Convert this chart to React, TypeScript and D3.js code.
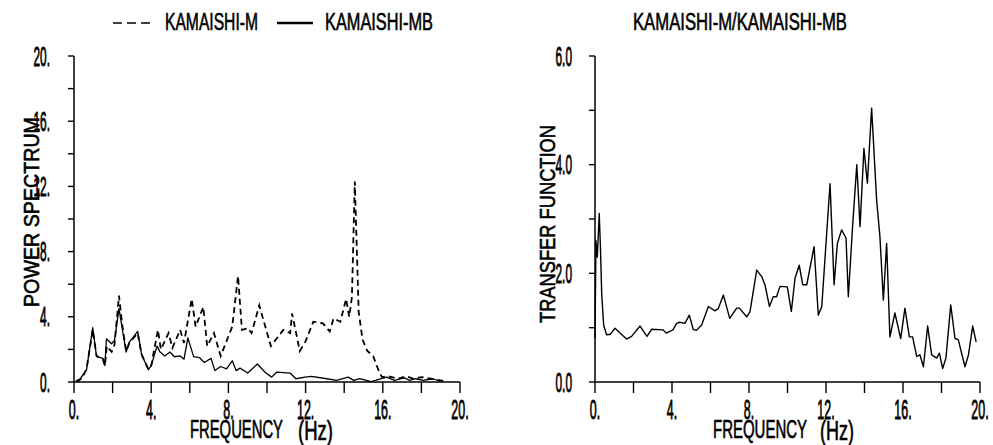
import React from "react";
import * as d3 from "d3";

// ---------- DATA ----------
const xTicks = [0, 2, 4, 6, 8, 10, 12, 14, 16, 18, 20];
const xTickLabels = ["0.", "4.", "8.", "12.", "16.", "20."];
const psTicks = [0, 2, 4, 6, 8, 10, 12, 14, 16, 18, 20];
const psTickLabels = ["0.", "4.", "8.", "12.", "16.", "20."];
const tfTicks = [0, 1, 2, 3, 4, 5, 6];
const tfTickLabels = ["0.0", "2.0", "4.0", "6.0"];

// KAMAISHI-M (dashed)
const mFreq = [0.1, 0.4, 0.65, 0.97, 1.17, 1.5, 1.6, 1.7, 1.95, 2.1, 2.33, 2.5, 2.7, 2.87, 3.3, 3.5, 3.85, 4.0, 4.35, 4.5, 4.9, 5.1, 5.5, 5.7, 6.1, 6.3, 6.7, 6.9, 7.25, 7.6, 8.2, 8.5, 8.7, 9.0, 9.2, 9.6, 10.2, 10.85, 11.2, 11.3, 11.7, 12.0, 12.4, 12.9, 13.25, 13.45, 13.8, 14.1, 14.26, 14.4, 14.55, 14.75, 14.95, 15.2, 15.5, 15.75, 15.95, 16.3, 16.8, 17.2, 17.6, 18.0, 18.5, 19.0, 19.2];
const mPower = [0.05, 0.2, 0.8, 3.2, 1.6, 1.4, 1.0, 2.2, 1.85, 2.3, 5.3, 3.5, 1.9, 2.4, 3.0, 1.7, 0.8, 1.0, 3.2, 2.0, 3.0, 2.1, 3.2, 2.4, 5.1, 3.4, 4.6, 2.2, 3.0, 1.6, 3.4, 6.5, 3.2, 3.3, 3.0, 4.7, 2.2, 3.2, 3.0, 4.2, 1.9, 2.5, 3.7, 3.6, 3.1, 3.9, 3.7, 5.1, 4.0, 5.2, 12.3, 4.3, 2.6, 1.9, 1.6, 0.8, 0.3, 0.35, 0.2, 0.35, 0.2, 0.3, 0.2, 0.1, 0.05];

// KAMAISHI-MB (solid)
const mbFreq = [0.2, 0.65, 0.97, 1.17, 1.5, 1.6, 1.68, 1.94, 2.1, 2.33, 2.7, 2.87, 3.3, 3.5, 3.85, 4.0, 4.3, 4.45, 4.7, 4.97, 5.2, 5.5, 5.7, 5.9, 6.2, 6.5, 6.75, 7.1, 7.3, 7.6, 7.9, 8.2, 8.4, 8.6, 9.0, 9.5, 9.9, 10.24, 10.5, 11.2, 11.5, 11.97, 12.3, 13.1, 13.6, 14.2, 14.5, 14.8, 15.4, 16.2, 16.6, 17.1, 17.4, 17.7, 18.1, 18.6, 19.0];
const mbPower = [0.0, 0.74, 3.33, 1.55, 1.45, 1.0, 2.65, 2.35, 2.55, 4.5, 1.84, 2.45, 3.1, 1.7, 0.75, 1.0, 2.2, 1.85, 1.6, 1.84, 1.55, 1.6, 1.4, 2.7, 1.56, 1.5, 1.2, 1.45, 0.7, 0.95, 0.8, 1.3, 0.7, 0.85, 0.55, 1.1, 0.6, 0.3, 0.6, 0.55, 0.2, 0.3, 0.35, 0.2, 0.1, 0.3, 0.1, 0.2, 0.02, 0.3, 0.1, 0.25, 0.1, 0.2, 0.1, 0.2, 0.03];

// Transfer function KAMAISHI-M / KAMAISHI-MB
const tfFreq = [0.0, 0.05, 0.12, 0.22, 0.28, 0.35, 0.45, 0.6, 0.8, 1.04, 1.3, 1.64, 1.9, 2.34, 2.7, 2.94, 3.53, 3.7, 4.05, 4.24, 4.4, 4.67, 4.9, 5.1, 5.27, 5.54, 5.89, 6.23, 6.4, 6.67, 7.0, 7.36, 7.5, 7.88, 8.05, 8.4, 8.66, 8.83, 9.06, 9.26, 9.43, 9.61, 9.99, 10.2, 10.39, 10.61, 10.79, 11.0, 11.38, 11.6, 11.78, 12.21, 12.42, 12.59, 12.81, 13.04, 13.16, 13.38, 13.6, 13.77, 13.97, 14.15, 14.37, 14.63, 14.8, 14.98, 15.15, 15.32, 15.58, 15.88, 16.1, 16.33, 16.5, 16.71, 16.88, 17.06, 17.28, 17.49, 17.75, 17.89, 18.06, 18.23, 18.48, 18.7, 18.87, 19.22, 19.4, 19.62, 19.8];
const tfValue = [0.8, 2.6, 2.3, 3.1, 2.5, 1.6, 1.05, 0.87, 0.88, 0.99, 0.9, 0.79, 0.84, 1.03, 0.84, 0.97, 0.96, 0.9, 0.96, 1.08, 1.1, 1.08, 1.23, 0.97, 0.95, 1.05, 1.39, 1.31, 1.35, 1.6, 1.17, 1.36, 1.36, 1.2, 1.29, 2.06, 1.94, 1.79, 1.39, 1.57, 1.57, 1.76, 1.75, 1.3, 1.91, 2.15, 1.79, 1.79, 2.49, 1.23, 1.39, 3.65, 1.79, 2.55, 2.8, 2.65, 1.57, 2.86, 4.0, 2.86, 4.3, 3.66, 5.04, 3.35, 2.68, 1.51, 2.55, 0.83, 1.27, 0.8, 1.36, 0.83, 0.83, 0.47, 0.5, 0.28, 1.03, 0.5, 0.44, 0.53, 0.25, 0.44, 1.42, 0.8, 0.78, 0.28, 0.5, 1.03, 0.74];

const legendM = "KAMAISHI-M";
const legendMB = "KAMAISHI-MB";
const rightTitle = "KAMAISHI-M/KAMAISHI-MB";

const FONT = "'Liberation Sans', Arial, sans-serif";

type Pt = [number, number];
const zip = (a: number[], b: number[]): Pt[] => a.map((v, i) => [v, b[i]]);

function NText(props: {
  x: number; y: number; text: string; size: number; sx?: number;
  anchor?: string; rotate?: number; len?: number; sw?: number;
}) {
  const { x, y, text, size, sx = 1, anchor = "start", rotate = 0, len, sw = 0.6 } = props;
  return (
    <text
      transform={`translate(${x},${y}) rotate(${rotate}) scale(${sx},1)`}
      fontFamily={FONT}
      fontSize={size}
      textAnchor={anchor}
      fill="#000"
      stroke="#000"
      strokeWidth={sw}
      textLength={len}
      lengthAdjust={len ? "spacingAndGlyphs" : undefined}
    >
      {text}
    </text>
  );
}

function Panel(props: {
  x0: number; x1: number; yTop: number; yBot: number;
  yMax: number; yTicks: number[]; yLabels: string[]; yLabelEvery: number;
  labelRight: number; freqX: number; hzX: number; freqLen: number; hzLen: number;
  children: (x: d3.ScaleLinear<number, number>, y: d3.ScaleLinear<number, number>) => React.ReactNode;
}) {
  const { x0, x1, yTop, yBot, yMax, yTicks, yLabels, yLabelEvery, labelRight } = props;
  const x = d3.scaleLinear().domain([0, 20]).range([x0, x1]);
  const y = d3.scaleLinear().domain([0, yMax]).range([yBot, yTop]);
  const labeledY = yTicks.filter((_, i) => i % yLabelEvery === 0);
  const labeledX = xTicks.filter((_, i) => i % 2 === 0);
  return (
    <g>
      <line x1={x0} x2={x0} y1={yTop} y2={yBot} stroke="#000" strokeWidth={1.5} />
      <line x1={x0} x2={x1} y1={yBot} y2={yBot} stroke="#000" strokeWidth={1.5} />
      {yTicks.map((t) => (
        <line key={"yt" + t} x1={x0 - 6} x2={x0} y1={y(t)} y2={y(t)} stroke="#000" strokeWidth={1.4} />
      ))}
      {xTicks.map((t) => (
        <line key={"xt" + t} x1={x(t)} x2={x(t)} y1={yBot} y2={yBot + 11} stroke="#000" strokeWidth={1.4} />
      ))}
      {labeledY.map((t, i) => (
        <NText key={"yl" + t} x={labelRight} y={y(t) + 9.5} text={yLabels[i]} size={27} sx={0.44} anchor="end" sw={0.9} />
      ))}
      {labeledX.map((t, i) => (
        <NText key={"xl" + t} x={x(t)} y={418.5} text={xTickLabels[i]} size={27} sx={0.46} anchor="middle" sw={0.9} />
      ))}
      <NText x={props.freqX} y={438} text="FREQUENCY" size={26} len={props.freqLen} sw={0.7} />
      <NText x={props.hzX} y={440} text="(Hz)" size={28} len={props.hzLen} sw={0.7} />
      {props.children(x, y)}
    </g>
  );
}

export default function App() {
  const line = (x: d3.ScaleLinear<number, number>, y: d3.ScaleLinear<number, number>) =>
    d3.line<Pt>().x((d) => x(d[0])).y((d) => y(d[1]));
  return (
    <svg width={993} height={445} style={{ position: "absolute", left: 0, top: 0, background: "#fff" }}>
      <rect x={0} y={0} width={993} height={445} fill="#fff" />
      {/* Legend */}
      <line x1={113} x2={150} y1={23} y2={23} stroke="#000" strokeWidth={1.6} strokeDasharray="9 5" />
      <NText x={165} y={30} text={legendM} size={23.5} len={93} />
      <line x1={277} x2={313} y1={23} y2={23} stroke="#000" strokeWidth={2.6} />
      <NText x={325} y={30} text={legendMB} size={23.5} len={108} />
      <NText x={633} y={30} text={rightTitle} size={23.5} len={214} />

      {/* Left panel */}
      <NText x={38.5} y={307} text="POWER SPECTRUM" size={21.5} rotate={-90} len={190} />
      <Panel x0={74} x1={460} yTop={56} yBot={382} yMax={20} yTicks={psTicks}
        yLabels={psTickLabels} yLabelEvery={2} labelRight={50}
        freqX={190} hzX={298} freqLen={93} hzLen={35}>
        {(x, y) => (
          <g fill="none">
            <path d={line(x, y)(zip(mbFreq, mbPower)) || ""} stroke="#000" strokeWidth={1.3} strokeLinejoin="round" />
            <path d={line(x, y)(zip(mFreq, mPower)) || ""} stroke="#000" strokeWidth={1.8} strokeDasharray="6 4" />
          </g>
        )}
      </Panel>

      {/* Right panel */}
      <NText x={555} y={323} text="TRANSFER FUNCTION" size={21.5} rotate={-90} len={198} />
      <Panel x0={595} x1={980} yTop={56} yBot={382} yMax={6} yTicks={tfTicks}
        yLabels={tfTickLabels} yLabelEvery={2} labelRight={572}
        freqX={713} hzX={820} freqLen={94} hzLen={34}>
        {(x, y) => (
          <path d={line(x, y)(zip(tfFreq, tfValue)) || ""} fill="none" stroke="#000" strokeWidth={1.4} strokeLinejoin="round" />
        )}
      </Panel>
    </svg>
  );
}
